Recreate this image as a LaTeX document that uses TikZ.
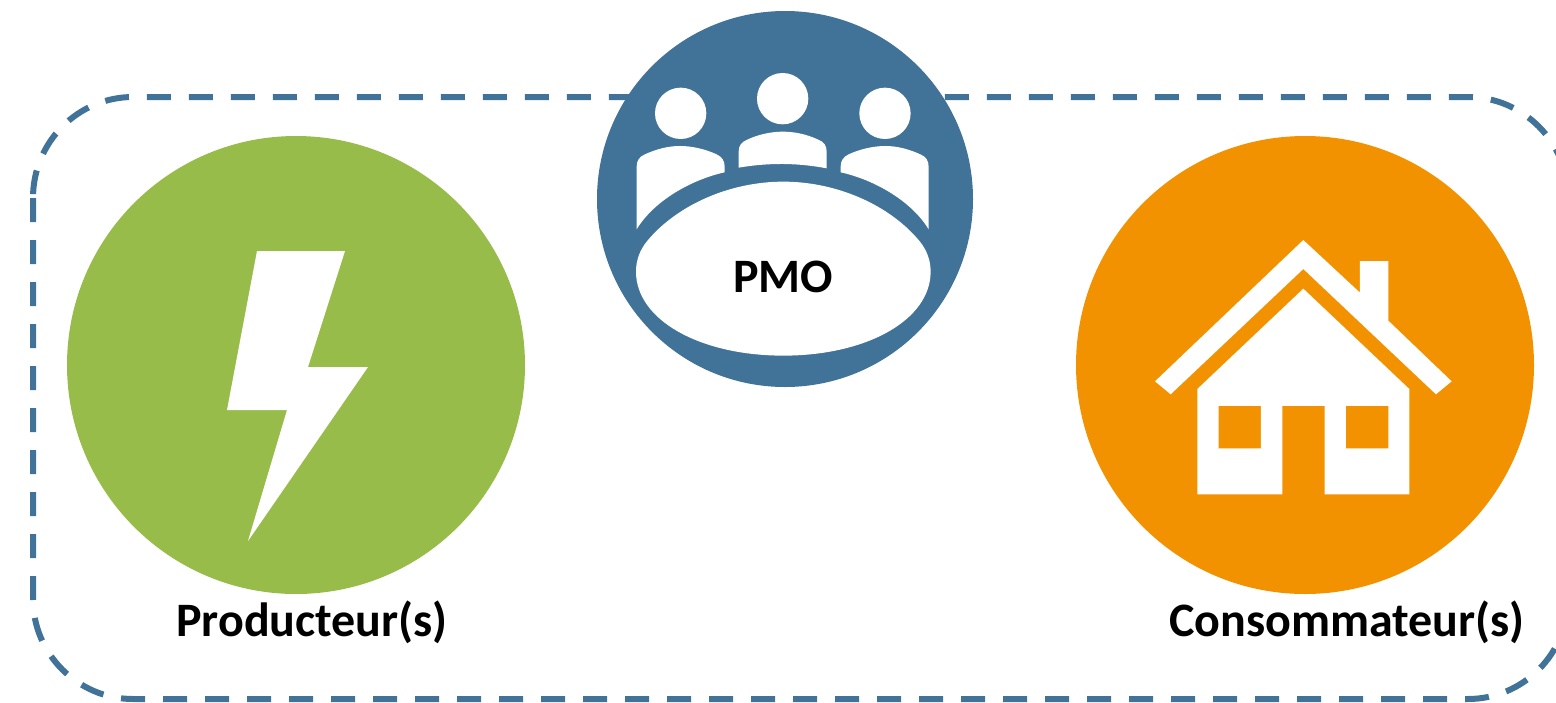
\documentclass[tikz,border=0pt]{standalone}
\usepackage{fontspec}
\setmainfont{Carlito}
\definecolor{pmoblue}{HTML}{417298}
\definecolor{prodgreen}{HTML}{98BC4A}
\definecolor{consorange}{HTML}{F39200}
\tikzset{
  disc/.style={circle,inner sep=0pt,outer sep=0pt,minimum size=#1},
  lbl/.style={font=\fontsize{48}{54}\bfseries\selectfont,text=black,inner sep=0pt},
  glyph/.style={fill=white,draw=none},
  frameline/.style={draw=pmoblue,line width=6pt,dash pattern=on 24pt off 18pt}
}
\begin{document}
\begin{tikzpicture}[x=1pt,y=-1pt]
\useasboundingbox (0,0) rectangle (1556,702);
\clip (0,0) rectangle (1556,702);
% dashed frame
\draw[frameline] (33,198) -- (33,599)
  .. controls (33,654) and (78,699) .. (133,699) -- (1468,699)
  .. controls (1523,699) and (1568,654) .. (1568,599) -- (1568,197)
  .. controls (1568,142) and (1523,97) .. (1468,97) -- (133,97)
  .. controls (78,97) and (33,142) .. (33,198);
% discs
\node[disc=458pt,fill=prodgreen] (prod) at (296,365) {};
\node[disc=458pt,fill=consorange] (cons) at (1305,365) {};
\node[disc=376pt,fill=pmoblue] (pmo) at (785,199) {};
% bolt
\fill[glyph] (257,251) -- (345,251) -- (308,367) -- (368,367) -- (248,541) -- (287,410) -- (227,410) -- cycle;
% house
\begin{scope}[shift={(1130,220)},x=0.3333pt,y=-0.3333pt]
\fill[glyph] (75,484) -- (520,60) -- (690,218) -- (690,123) -- (775,123) -- (775,302) -- (965,484) -- (918,523) -- (520,147) -- (122,523) -- cycle;
\fill[glyph,even odd rule] (202,507) -- (520,206) -- (838,507) -- (838,823) -- (584,823) -- (584,558) -- (457,558) -- (457,823) -- (202,823) -- cycle
  (266,558) rectangle (393,685) (648,558) rectangle (775,685);
\end{scope}
% people and table
\begin{scope}[shift={(590,0)},x=0.3333pt,y=-0.3333pt]
\fill[glyph] (272,340) circle[radius=25.67pt];
\fill[glyph] (578,296) circle[radius=25.67pt];
\fill[glyph] (885,340) circle[radius=25.67pt];
\fill[glyph] (140,688) -- (140,500) .. controls (140,482) and (148,470) .. (165,463) .. controls (200,447) and (235,438) .. (270,438) .. controls (305,438) and (345,447) .. (380,463) .. controls (396,471) and (404,482) .. (404,500) -- (404,517) .. controls (300,540) and (190,605) .. (140,688) -- cycle;
\fill[glyph] (1016,688) -- (1016,500) .. controls (1016,482) and (1008,470) .. (991,463) .. controls (956,447) and (921,438) .. (886,438) .. controls (851,438) and (811,447) .. (776,463) .. controls (760,471) and (752,482) .. (752,500) -- (752,517) .. controls (856,540) and (966,605) .. (1016,688) -- cycle;
\fill[glyph] (446,503) -- (446,455) .. controls (446,436) and (455,426) .. (472,419) .. controls (505,403) and (545,395) .. (578,395) .. controls (615,395) and (650,403) .. (685,419) .. controls (702,426) and (710,436) .. (710,455) -- (710,505) .. controls (620,488) and (535,488) .. (446,503) -- cycle;
\fill[glyph] (580,545) .. controls (740,545) and (900,615) .. (990,725) .. controls (1010,750) and (1022,780) .. (1022,815) .. controls (1022,960) and (830,1067) .. (580,1067) .. controls (330,1067) and (138,960) .. (138,815) .. controls (138,780) and (150,750) .. (170,725) .. controls (260,615) and (420,545) .. (580,545) -- cycle;
\end{scope}
% labels
\node[lbl] (pmolabel) at (783,277) {PMO};
\node[lbl] (prodlabel) at (312,622) {Producteur(s)};
\node[lbl] (conslabel) at (1347,622) {Consommateur(s)};
\end{tikzpicture}
\end{document}
